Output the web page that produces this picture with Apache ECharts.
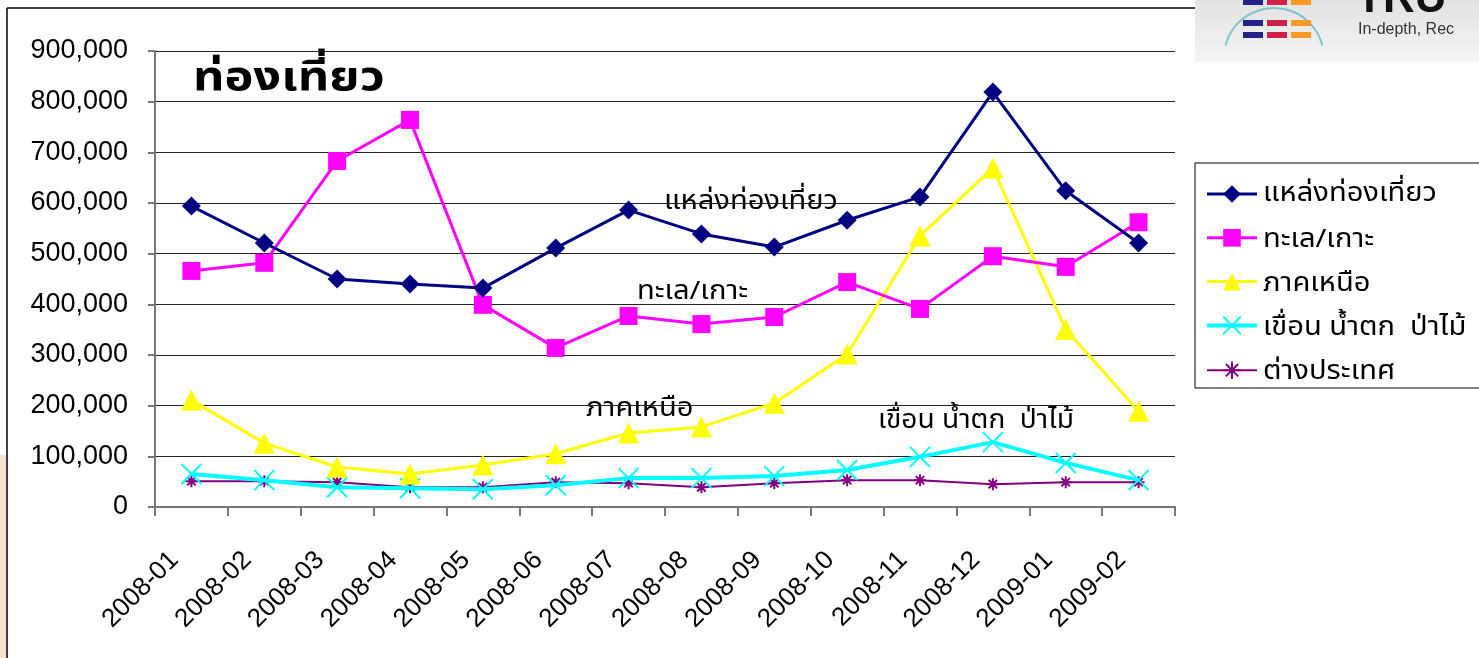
<!DOCTYPE html>
<html><head><meta charset="utf-8">
<script src="https://cdn.jsdelivr.net/npm/echarts@6/dist/echarts.min.js"></script>
<style>html,body{margin:0;padding:0;background:#fff}#c{width:1479px;height:658px}</style>
</head><body><div id="c"></div>
<script>
const categories = ['2008-01','2008-02','2008-03','2008-04','2008-05','2008-06','2008-07','2008-08','2008-09','2008-10','2008-11','2008-12','2009-01','2009-02'];
const seriesNames = ['แหล่งท่องเที่ยว','ทะเล/เกาะ','ภาคเหนือ','เขื่อน น้ำตก  ป่าไม้','ต่างประเทศ'];
const attractions = [594000,521000,450000,440000,432000,511000,586000,539000,513000,566000,612000,819000,624000,521000];
const seaIsland   = [466000,482000,683000,764000,399000,314000,377000,361000,375000,444000,391000,495000,474000,562000];
const north       = [211000,126000,79000,65000,83000,105000,146000,158000,205000,302000,535000,669000,351000,189000];
const damWaterfall= [65000,53000,39000,37000,35000,43000,57000,57000,61000,73000,99000,128000,87000,53000];
const abroad      = [51000,51000,49000,39000,39000,49000,47000,39000,47000,53000,53000,45000,49000,49000];
const yTicks = [0,100000,200000,300000,400000,500000,600000,700000,800000,900000];
const chartTitle = 'ท่องเที่ยว';

const thaiFont = '"Noto Sans Thai","Noto Sans","DejaVu Sans",sans-serif';
const numFont = '"Liberation Sans",Arial,sans-serif';
const X_PATH = 'path://M0,0L10,10M10,0L0,10';
const STAR_PATH = 'path://M5,0L5,10M0,5L10,5M1.5,1.5L8.5,8.5M8.5,1.5L1.5,8.5';

const chart = echarts.init(document.getElementById('c'), null, {renderer:'canvas'});
const colors = ['#000080','#ff00ff','#ffff00','#00ffff','#800080'];
const datas = [attractions, seaIsland, north, damWaterfall, abroad];
const symbols = ['diamond','rect','triangle',X_PATH,STAR_PATH];
const sizes = [19,18,21,20,12];
const widths = [3,3,3,4,2];

const series = seriesNames.map((n,i)=>({
  name:n, type:'line', data:datas[i], symbol:symbols[i], symbolSize:sizes[i],
  showAllSymbol:true, animation:false, z: 10-i,
  lineStyle:{color:colors[i], width:widths[i]},
  itemStyle:{color:colors[i], borderColor:colors[i], borderWidth:(i>=3?2:0)}
}));

const legendY = [192,238,282,326,370];
const legendTexts = seriesNames.map((n,i)=>({
  type:'text', left:1263, top:legendY[i]-9, scaleX:1.12, originX:1263,
  style:{text:n, font:'26px '+thaiFont, fill:'#000'}
}));

chart.setOption({
  animation:false,
  backgroundColor:'#ffffff',
  grid:{left:155, right:304, top:51, bottom:151, containLabel:false},
  xAxis:{type:'category', data:categories, boundaryGap:true,
    axisLine:{lineStyle:{color:'#777', width:2}},
    axisTick:{show:true, interval:0, length:9, lineStyle:{color:'#777', width:2}},
    axisLabel:{rotate:45, interval:0, fontSize:26, color:'#000', fontFamily:numFont, margin:32, padding:[0,24,0,0]}
  },
  yAxis:{type:'value', min:yTicks[0], max:yTicks[yTicks.length-1], interval:100000,
    axisLine:{show:true, lineStyle:{color:'#777', width:2}},
    axisTick:{show:true, length:7, lineStyle:{color:'#777', width:2}},
    splitLine:{lineStyle:{color:'#222', width:1}},
    axisLabel:{fontSize:27, color:'#000', fontFamily:numFont, margin:27,
      formatter:v=>v.toLocaleString('en-US')}
  },
  legend:{orient:'vertical', left:1205, top:183, padding:0, itemWidth:50, itemHeight:22, itemGap:24,
    data:seriesNames.map((n,i)=>({name:n, lineStyle:{width:widths[i]}})), formatter:()=>'',
    textStyle:{fontSize:10, color:'#000'}
  },
  series:series,
  graphic:[
    {type:'rect', shape:{x:0,y:455,width:6,height:210}, style:{fill:'#f3e4d0'}, z:-1},
    {type:'line', shape:{x1:7,y1:8,x2:1196,y2:8}, style:{stroke:'#000',lineWidth:1.5}},
    {type:'line', shape:{x1:7,y1:8,x2:7,y2:660}, style:{stroke:'#000',lineWidth:1.5}},
    {type:'rect', shape:{x:1195,y:0,width:290,height:62},
      style:{fill:new echarts.graphic.LinearGradient(0,0,0,1,[{offset:0,color:'#e2e2e2'},{offset:1,color:'#f5f5f5'}])}},
    {type:'arc', shape:{cx:1274,cy:58,r:50,startAngle:Math.PI*1.08,endAngle:Math.PI*1.92}, style:{stroke:'#7cc6cc',lineWidth:2,fill:null}},
    {type:'group', children:[0,1,2].flatMap(r=>[0,1,2].map(c=>({type:'rect',
      shape:{x:1243+c*24,y:[0,20,32][r],width:20,height:[5,6,6][r]},
      style:{fill:['#22228a','#d0204a','#ff9a20'][c]}})))},
    {type:'text', left:1356, top:-22, style:{text:'TRU', font:'bold 44px "Liberation Sans",Arial', fill:'#111'}},
    {type:'text', left:1358, top:22, style:{text:'In-depth, Rec', font:'16px "Liberation Sans",Arial', fill:'#333'}},
    {type:'rect', shape:{x:1195,y:163,width:300,height:225}, style:{fill:null, stroke:'#000', lineWidth:1}},
    {type:'text', left:193, top:62, scaleX:1.22, originX:193, style:{text:chartTitle, font:'bold 40px '+thaiFont, fill:'#000'}},
    {type:'text', left:664, top:191, scaleX:1.12, originX:664, style:{text:'แหล่งท่องเที่ยว', font:'26px '+thaiFont, fill:'#000'}},
    {type:'text', left:637, top:281, scaleX:1.12, originX:637, style:{text:'ทะเล/เกาะ', font:'26px '+thaiFont, fill:'#000'}},
    {type:'text', left:586, top:398, scaleX:1.12, originX:586, style:{text:'ภาคเหนือ', font:'26px '+thaiFont, fill:'#000'}},
    {type:'text', left:878, top:410, scaleX:1.08, originX:878, style:{text:'เขื่อน น้ำตก  ป่าไม้', font:'26px '+thaiFont, fill:'#000'}}
  ].concat(legendTexts)
});
</script></body></html>
